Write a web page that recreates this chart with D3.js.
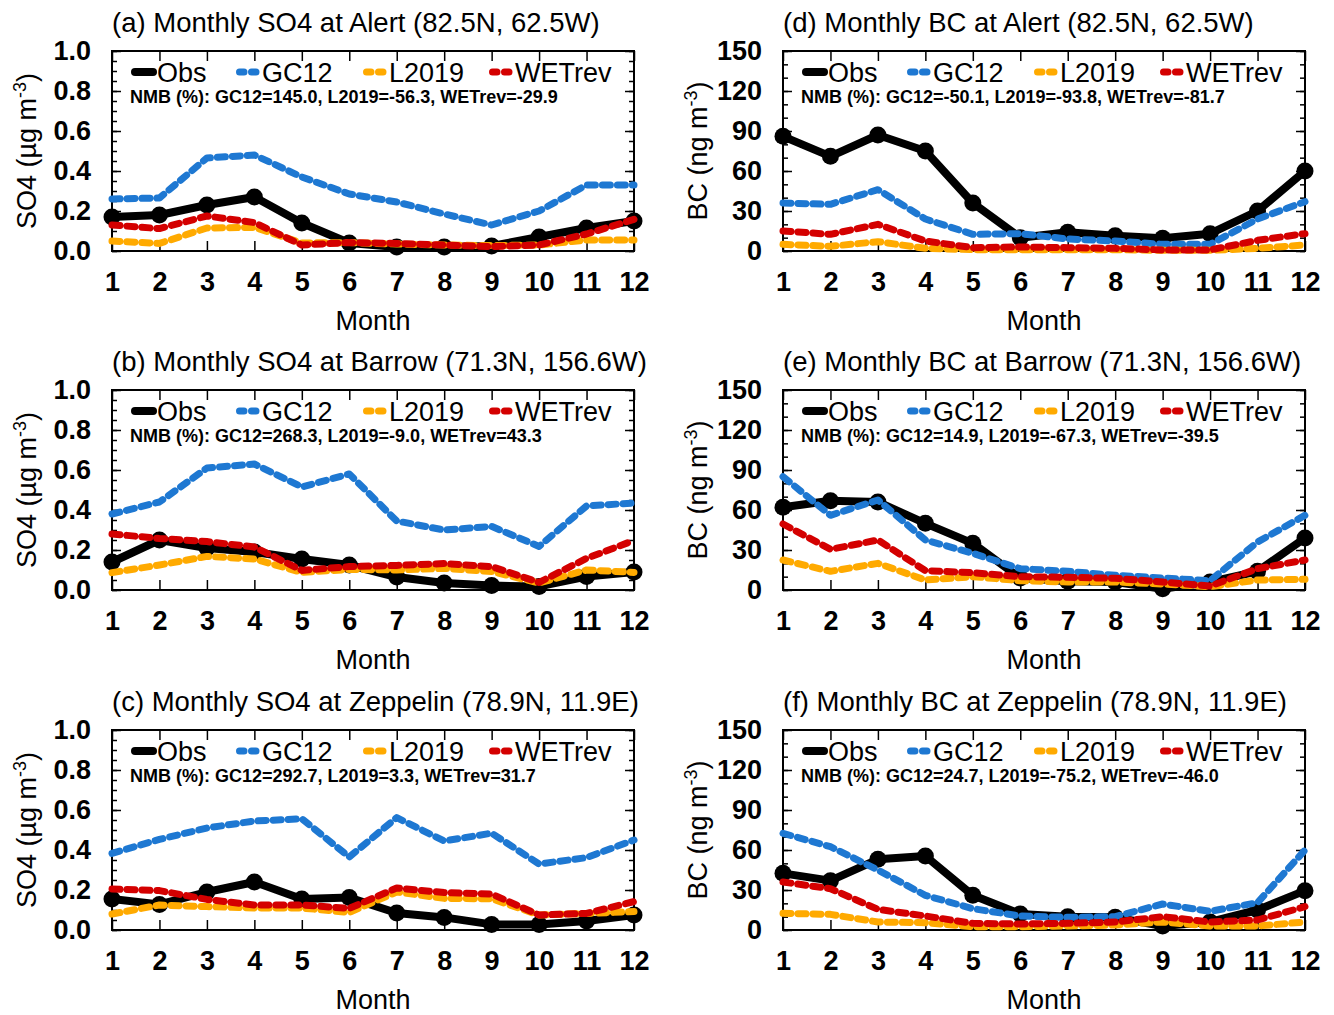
<!DOCTYPE html>
<html>
<head>
<meta charset="utf-8">
<script src="https://cdn.jsdelivr.net/npm/d3@7"></script>
<style>
  body { margin: 0; background: #fff; }
  text { font-family: "Liberation Sans", Arial, Helvetica, sans-serif; }
</style>
</head>
<body>
<div id="chart"></div>
<script>
const months = [1, 2, 3, 4, 5, 6, 7, 8, 9, 10, 11, 12];
const seriesNames = ["Obs", "GC12", "L2019", "WETrev"];

// (a) SO4 Alert
const so4AlertObs    = [0.17, 0.18, 0.23, 0.27, 0.14, 0.04, 0.02, 0.02, 0.025, 0.07, 0.115, 0.15];
const so4AlertGC12   = [0.26, 0.265, 0.465, 0.48, 0.37, 0.285, 0.245, 0.185, 0.13, 0.2, 0.33, 0.33];
const so4AlertL2019  = [0.05, 0.038, 0.115, 0.118, 0.04, 0.042, 0.035, 0.03, 0.027, 0.03, 0.055, 0.055];
const so4AlertWETrev = [0.13, 0.112, 0.175, 0.142, 0.03, 0.042, 0.038, 0.03, 0.022, 0.03, 0.085, 0.158];
const nmbSo4Alert = ["145.0", "-56.3", "-29.9"];

// (b) SO4 Barrow
const so4BarrowObs    = [0.14, 0.25, 0.21, 0.19, 0.155, 0.125, 0.065, 0.035, 0.022, 0.018, 0.067, 0.09];
const so4BarrowGC12   = [0.38, 0.44, 0.61, 0.63, 0.515, 0.58, 0.345, 0.3, 0.318, 0.218, 0.42, 0.435];
const so4BarrowL2019  = [0.087, 0.125, 0.168, 0.155, 0.088, 0.103, 0.1, 0.108, 0.092, 0.035, 0.1, 0.088];
const so4BarrowWETrev = [0.28, 0.258, 0.242, 0.215, 0.098, 0.117, 0.123, 0.132, 0.117, 0.038, 0.158, 0.248];
const nmbSo4Barrow = ["268.3", "-9.0", "43.3"];

// (c) SO4 Zeppelin
const so4ZeppObs    = [0.155, 0.128, 0.19, 0.24, 0.155, 0.162, 0.085, 0.063, 0.028, 0.028, 0.045, 0.075];
const so4ZeppGC12   = [0.383, 0.453, 0.51, 0.545, 0.556, 0.365, 0.562, 0.445, 0.484, 0.33, 0.362, 0.45];
const so4ZeppL2019  = [0.08, 0.125, 0.117, 0.11, 0.11, 0.088, 0.19, 0.158, 0.156, 0.075, 0.083, 0.092];
const so4ZeppWETrev = [0.205, 0.197, 0.153, 0.125, 0.125, 0.108, 0.21, 0.187, 0.18, 0.075, 0.083, 0.142];
const nmbSo4Zepp = ["292.7", "3.3", "31.7"];

// (d) BC Alert
const bcAlertObs    = [86, 71, 87, 75, 36, 10, 14, 11.5, 9.5, 13, 30, 60];
const bcAlertGC12   = [36, 35, 46, 24, 12.5, 13, 9, 7.5, 5, 5, 24, 37];
const bcAlertL2019  = [5, 3.5, 7, 2, 1, 1, 1, 1, 0.5, 0.5, 2, 4.5];
const bcAlertWETrev = [15, 12.5, 20, 7.5, 2.5, 3, 2.5, 2, 0.8, 0.8, 8, 13];
const nmbBcAlert = ["-50.1", "-93.8", "-81.7"];

// (e) BC Barrow
const bcBarrowObs    = [62, 67, 66, 50, 35, 9, 6.5, 6, 1, 6, 14, 39];
const bcBarrowGC12   = [85, 56, 67.5, 37.5, 27.5, 16, 14, 11, 9, 7, 36, 56];
const bcBarrowL2019  = [22.5, 14, 20, 7.5, 10, 7, 6, 6, 4.5, 2.5, 7.5, 8];
const bcBarrowWETrev = [49.5, 30.5, 37.5, 14.5, 13, 10, 9.5, 8.8, 6, 3, 16, 22.5];
const nmbBcBarrow = ["14.9", "-67.3", "-39.5"];

// (f) BC Zeppelin
const bcZeppObs    = [42.5, 37, 53, 55.5, 26, 12, 10, 9.5, 3, 6, 15, 29.5];
const bcZeppGC12   = [72.5, 62.5, 45, 26, 16, 10.5, 9.5, 10, 19.5, 14, 20.5, 60];
const bcZeppL2019  = [12.5, 11.75, 6, 5.5, 2.5, 2.5, 3, 3.75, 6, 3, 3, 6];
const bcZeppWETrev = [36, 31, 15.5, 10.5, 5, 4.5, 5, 6, 10, 6, 7.5, 17.5];
const nmbBcZepp = ["24.7", "-75.2", "-46.0"];

const so4Ticks = [0, 0.2, 0.4, 0.6, 0.8, 1.0];
const bcTicks = [0, 30, 60, 90, 120, 150];

const panels = [
  {tag: "(a)", species: "SO4", site: "Alert (82.5N, 62.5W)", col: 0, row: 0, ticks: so4Ticks,
   data: [so4AlertObs, so4AlertGC12, so4AlertL2019, so4AlertWETrev], nmb: nmbSo4Alert},
  {tag: "(b)", species: "SO4", site: "Barrow (71.3N, 156.6W)", col: 0, row: 1, ticks: so4Ticks,
   data: [so4BarrowObs, so4BarrowGC12, so4BarrowL2019, so4BarrowWETrev], nmb: nmbSo4Barrow},
  {tag: "(c)", species: "SO4", site: "Zeppelin (78.9N, 11.9E)", col: 0, row: 2, ticks: so4Ticks,
   data: [so4ZeppObs, so4ZeppGC12, so4ZeppL2019, so4ZeppWETrev], nmb: nmbSo4Zepp},
  {tag: "(d)", species: "BC", site: "Alert (82.5N, 62.5W)", col: 1, row: 0, ticks: bcTicks,
   data: [bcAlertObs, bcAlertGC12, bcAlertL2019, bcAlertWETrev], nmb: nmbBcAlert},
  {tag: "(e)", species: "BC", site: "Barrow (71.3N, 156.6W)", col: 1, row: 1, ticks: bcTicks,
   data: [bcBarrowObs, bcBarrowGC12, bcBarrowL2019, bcBarrowWETrev], nmb: nmbBcBarrow},
  {tag: "(f)", species: "BC", site: "Zeppelin (78.9N, 11.9E)", col: 1, row: 2, ticks: bcTicks,
   data: [bcZeppObs, bcZeppGC12, bcZeppL2019, bcZeppWETrev], nmb: nmbBcZepp}
];

const colors = ["#000000", "#1e78d2", "#ffaa00", "#d40000"];
const colX = [112, 783];
const rowY = [51, 390, 730];
const width = 522;
const height = 200;

const svg = d3.select("#chart")
    .append("svg")
    .attr("width", 1334)
    .attr("height", 1015);

function drawPanel(p) {
    const g = svg.append("g")
        .attr("transform", `translate(${colX[p.col]},${rowY[p.row]})`);

    const ymax = p.ticks[p.ticks.length - 1];
    const x = d3.scaleLinear().domain([1, 12]).range([0, width]);
    const y = d3.scaleLinear().domain([0, ymax]).range([height, 0]);
    const minorStep = p.species === "SO4" ? 0.05 : 10;
    const minor = d3.range(0, ymax + minorStep / 2, minorStep);
    const fmt = p.species === "SO4" ? d3.format(".1f") : d3.format("d");

    // minor ticks left / right
    g.append("g").attr("class", "axis")
        .call(d3.axisLeft(y).tickValues(minor).tickSize(-5).tickFormat(""));
    g.append("g").attr("class", "axis")
        .attr("transform", `translate(${width},0)`)
        .call(d3.axisRight(y).tickValues(minor).tickSize(-5).tickFormat(""));

    // major ticks
    g.append("g").attr("class", "axis")
        .call(d3.axisLeft(y).tickValues(p.ticks).tickSize(-9).tickPadding(21).tickFormat(fmt));
    g.append("g").attr("class", "axis")
        .attr("transform", `translate(${width},0)`)
        .call(d3.axisRight(y).tickValues(p.ticks).tickSize(-9).tickFormat(""));

    g.append("g").attr("class", "axis")
        .attr("transform", `translate(0,${height})`)
        .call(d3.axisBottom(x).tickValues(months).tickSize(-10).tickPadding(21).tickFormat(d3.format("d")));
    g.append("g").attr("class", "axis")
        .call(d3.axisTop(x).tickValues(months).tickSize(-10).tickFormat(""));

    g.selectAll(".axis .domain").remove();
    g.selectAll(".axis line").attr("stroke", "#000").attr("stroke-width", 1.5);
    g.selectAll(".axis text")
        .attr("fill", "#000")
        .style("font-size", "27px")
        .style("font-weight", "bold");

    g.append("rect")
        .attr("width", width)
        .attr("height", height)
        .attr("fill", "none")
        .attr("stroke", "#000")
        .attr("stroke-width", 2);

    // series
    const line = d3.line()
        .x((d, i) => x(months[i]))
        .y(d => y(d));

    p.data.forEach((vals, k) => {
        const path = g.append("path")
            .datum(vals)
            .attr("fill", "none")
            .attr("stroke", colors[k])
            .attr("stroke-linejoin", "round")
            .attr("d", line);
        if (k === 0) {
            path.attr("stroke-width", 8);
            g.selectAll(".obsdot")
                .data(vals)
                .enter()
                .append("circle")
                .attr("cx", (d, i) => x(months[i]))
                .attr("cy", d => y(d))
                .attr("r", 8.5)
                .attr("fill", "#000");
        } else {
            path.attr("stroke-width", 7)
                .attr("stroke-linecap", "round")
                .attr("stroke-dasharray", "8,7");
        }
    });

    // legend
    const legX = [19, 124, 251, 377];
    seriesNames.forEach((name, k) => {
        const lg = g.append("g").attr("transform", `translate(${legX[k]},21)`);
        const ln = lg.append("line")
            .attr("y1", 0).attr("y2", 0)
            .attr("stroke", colors[k])
            .attr("stroke-linecap", "round");
        if (k === 0) {
            ln.attr("x1", 4).attr("x2", 22).attr("stroke-width", 8);
        } else {
            ln.attr("x1", 3.5).attr("x2", 20).attr("stroke-width", 7)
                .attr("stroke-dasharray", "4.5,7.5");
        }
        lg.append("text")
            .attr("x", 26)
            .attr("y", 10)
            .style("font-size", "27px")
            .text(name);
    });

    g.append("text")
        .attr("x", 18)
        .attr("y", 52)
        .style("font-size", "18px")
        .style("font-weight", "bold")
        .text(`NMB (%): GC12=${p.nmb[0]}, L2019=${p.nmb[1]}, WETrev=${p.nmb[2]}`);

    // title
    g.append("text")
        .attr("x", 0)
        .attr("y", -19)
        .style("font-size", "27.5px")
        .text(`${p.tag} Monthly ${p.species} at ${p.site}`);

    // x label
    g.append("text")
        .attr("x", width / 2)
        .attr("y", height + 79)
        .attr("text-anchor", "middle")
        .style("font-size", "27px")
        .text("Month");

    // y label
    const yl = g.append("text")
        .attr("transform", `translate(-76,${height / 2}) rotate(-90)`)
        .attr("text-anchor", "middle")
        .style("font-size", "27px");
    const unit = p.species === "SO4" ? "\u00b5g m" : "ng m";
    yl.append("tspan").text(`${p.species} (${unit}`);
    yl.append("tspan").attr("dy", -10).style("font-size", "18px").text("-3");
    yl.append("tspan").attr("dy", 10).text(")");
}

panels.forEach(drawPanel);
</script>
</body>
</html>
